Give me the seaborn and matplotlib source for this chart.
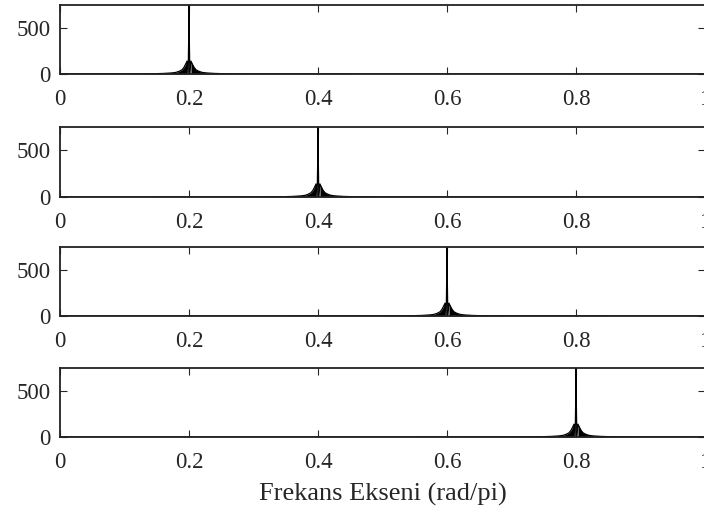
import numpy as np
import pandas as pd
import seaborn as sns
import matplotlib.pyplot as plt

# peak positions of the four spectra (rad/pi)
peak_freqs = [0.2, 0.4, 0.6, 0.8]
# main spike around each peak: offset from peak, magnitude
spike_offsets = [-0.0013, -0.0005, 0.0, 0.0005, 0.0013]
spike_mags = [0, 380, 750, 380, 0]
# leakage skirt envelope (one side, mirrored)
skirt_offsets = [0.003, 0.005, 0.008, 0.011, 0.015, 0.02, 0.025, 0.03, 0.04, 0.05, 0.07, 0.1, 0.15, 0.25]
skirt_mags = [140, 110, 70, 45, 30, 18, 13, 10, 6, 4, 2.5, 1.8, 1.2, 0.8]
floor_mag = 0.5

xticks = [0, 0.2, 0.4, 0.6, 0.8, 1]
xtick_labels = ['0', '0.2', '0.4', '0.6', '0.8', '1']
yticks = [0, 500]

sns.set_style("ticks")
plt.rcParams['font.family'] = ['Liberation Serif', 'DejaVu Serif']
plt.rcParams['xtick.direction'] = 'in'
plt.rcParams['ytick.direction'] = 'in'

fig = plt.figure(figsize=(7.04, 5.16), dpi=100)
W, H = 704, 516
tops = [5, 127, 247, 368]
bottoms = [74, 197, 316, 437]
left, right = 60, 705

for top, bot, f0 in zip(tops, bottoms, peak_freqs):
    ax = fig.add_axes([left / W, 1 - bot / H, (right - left) / W, (bot - top) / H])
    so = np.array(skirt_offsets)
    sm = np.array(skirt_mags)
    freq = np.concatenate([[0], f0 - so[::-1], f0 + np.array(spike_offsets), f0 + so, [1]])
    mag = np.concatenate([[floor_mag], sm[::-1], spike_mags, sm, [floor_mag]])
    df = pd.DataFrame({'freq': freq, 'mag': mag})
    ax.fill_between(f0 - so, 0, sm, color='black', lw=0)
    ax.fill_between(f0 + so, 0, sm, color='black', lw=0)
    sns.lineplot(data=df, x='freq', y='mag', ax=ax, color='black', lw=0.9,
                 sort=False, estimator=None)
    ax.set_xlim(0, 1)
    ax.set_ylim(0, 750)
    ax.set_xticks(xticks)
    ax.set_xticklabels(xtick_labels)
    ax.set_yticks(yticks)
    ax.set_xlabel('')
    ax.set_ylabel('')
    ax.tick_params(top=True, right=True, labelsize=16.5, length=5, width=0.8)
    ax.tick_params(axis='x', pad=11)
    ax.tick_params(axis='y', pad=7)
    for s in ax.spines.values():
        s.set_visible(True)
        s.set_linewidth(1.3)
        s.set_color('#222222')

fig.text(383 / W, 1 - 494 / H, 'Frekans Ekseni (rad/pi)', ha='center', va='center', fontsize=19)

fig.savefig('out.png', dpi=100)
